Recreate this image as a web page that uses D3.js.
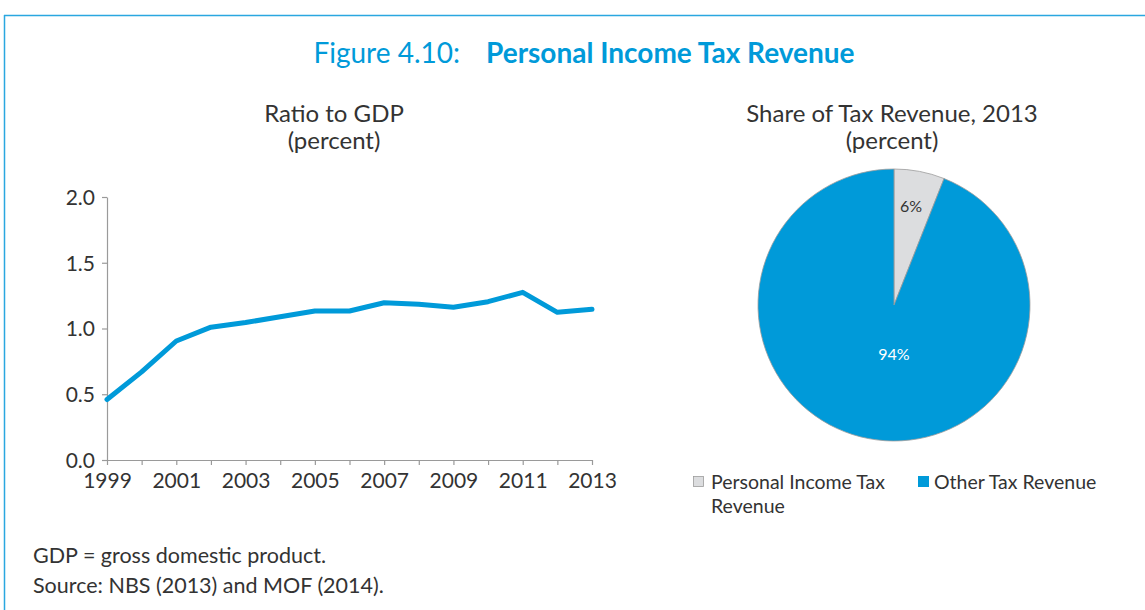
<!DOCTYPE html>
<html>
<head>
<meta charset="utf-8">
<script src="https://cdn.jsdelivr.net/npm/d3@7"></script>
<style>
  body { margin: 0; background: #fff; }
  svg text { font-family: Lato, "Open Sans", sans-serif; }
</style>
</head>
<body>
<svg id="chart" width="1145" height="610"></svg>
<script>
"use strict";

const years = [1999, 2000, 2001, 2002, 2003, 2004, 2005, 2006, 2007, 2008, 2009, 2010, 2011, 2012, 2013];
const ratioToGdp = [0.46, 0.67, 0.905, 1.01, 1.045, 1.09, 1.133, 1.133, 1.196, 1.184, 1.161, 1.204, 1.275, 1.123, 1.146];
const yTicks = [0, 0.5, 1.0, 1.5, 2.0];
const xTickLabels = [1999, 2001, 2003, 2005, 2007, 2009, 2011, 2013];

const shareNames = ["Personal Income Tax Revenue", "Other Tax Revenue"];
const shareValues = [6, 94];
const shareColors = ["#dcdddf", "#009ad9"];

const blue = "#009ad9";
const textColor = "#333333";

const svg = d3.select("#chart");

// frame
svg.append("line").attr("x1", 4).attr("x2", 1145).attr("y1", 15.5).attr("y2", 15.5)
    .attr("stroke", "#2aa7e0").attr("stroke-width", 1.5);
svg.append("line").attr("x1", 4.5).attr("x2", 4.5).attr("y1", 15).attr("y2", 610)
    .attr("stroke", "#2aa7e0").attr("stroke-width", 1.5);

// title
const title = svg.append("text").attr("x", 584).attr("y", 63)
    .attr("text-anchor", "middle").attr("fill", blue).style("font-size", "28px");
title.append("tspan").text("Figure 4.10:");
title.append("tspan").attr("dx", 26).style("font-weight", "bold").text("Personal Income Tax Revenue");

// ---- line chart ----
var xScale = d3.scaleLinear().domain([1999, 2013]).range([107, 592]);
var yScale = d3.scaleLinear().domain([0, 2]).range([460, 197]);

svg.append("text").attr("x", 334).attr("y", 122).attr("text-anchor", "middle")
    .attr("fill", textColor).style("font-size", "24px").text("Ratio to GDP");
svg.append("text").attr("x", 334).attr("y", 149).attr("text-anchor", "middle")
    .attr("fill", textColor).style("font-size", "24px").text("(percent)");

const yAxis = svg.append("g").attr("transform", "translate(107,0)")
    .call(d3.axisLeft(yScale).tickValues(yTicks).tickFormat(d3.format(".1f")).tickSize(5).tickSizeOuter(0));
const xAxis = svg.append("g").attr("transform", "translate(0,460)")
    .call(d3.axisBottom(xScale).tickValues(years).tickFormat(d => xTickLabels.includes(d) ? d : "").tickSize(5).tickSizeOuter(0));

[yAxis, xAxis].forEach(function(ax) {
    ax.select(".domain").attr("stroke", "#9a9a9a").attr("stroke-width", 1.2);
    ax.selectAll(".tick line").attr("stroke", "#9a9a9a").attr("stroke-width", 1.2);
    ax.selectAll(".tick text").attr("fill", textColor).style("font-size", "21px")
        .style("font-family", "Lato, 'Open Sans', sans-serif");
});
yAxis.selectAll(".tick text").attr("x", -12).attr("dy", "0.35em");
xAxis.selectAll(".tick text").attr("y", 11).attr("dy", "0.8em");

const line = d3.line()
    .x((d, i) => xScale(years[i]))
    .y(d => yScale(d));

svg.append("path").datum(ratioToGdp)
    .attr("d", line)
    .attr("fill", "none")
    .attr("stroke", blue)
    .attr("stroke-width", 5)
    .attr("stroke-linejoin", "round")
    .attr("stroke-linecap", "round");

// ---- pie chart ----
svg.append("text").attr("x", 892).attr("y", 122).attr("text-anchor", "middle")
    .attr("fill", textColor).style("font-size", "24px").text("Share of Tax Revenue, 2013");
svg.append("text").attr("x", 892).attr("y", 149).attr("text-anchor", "middle")
    .attr("fill", textColor).style("font-size", "24px").text("(percent)");

const pieData = d3.pie().sort(null)(shareValues);
const radius = 136;
const arc = d3.arc().innerRadius(0).outerRadius(radius);
const pieG = svg.append("g").attr("transform", "translate(894,305)");

pieG.selectAll("path").data(pieData).join("path")
    .attr("d", arc)
    .attr("fill", (d, i) => shareColors[i])
    .attr("stroke", "#9c9c9c")
    .attr("stroke-width", 0.8);

const labelPos = [[17, -93], [0, 55]];
pieG.selectAll("text.lbl").data(pieData).join("text")
    .attr("class", "lbl")
    .attr("x", (d, i) => labelPos[i][0])
    .attr("y", (d, i) => labelPos[i][1])
    .attr("text-anchor", "middle")
    .attr("fill", (d, i) => i === 0 ? textColor : "#ffffff")
    .style("font-size", "16px")
    .text(d => d.data + "%");

// legend
const legend = svg.append("g");
legend.append("rect").attr("x", 693.5).attr("y", 476.5).attr("width", 10).attr("height", 10)
    .attr("fill", shareColors[0]).attr("stroke", "#9c9c9c").attr("stroke-width", 0.8);
legend.append("text").attr("x", 711).attr("y", 489).attr("fill", textColor).style("font-size", "19.5px")
    .text("Personal Income Tax");
legend.append("text").attr("x", 711).attr("y", 513).attr("fill", textColor).style("font-size", "19.5px")
    .text("Revenue");
legend.append("rect").attr("x", 918).attr("y", 476).attr("width", 11).attr("height", 11)
    .attr("fill", shareColors[1]);
legend.append("text").attr("x", 934).attr("y", 489).attr("fill", textColor).style("font-size", "19.5px")
    .text("Other Tax Revenue");

// notes
svg.append("text").attr("x", 33).attr("y", 563).attr("fill", textColor).style("font-size", "21.5px")
    .text("GDP = gross domestic product.");
svg.append("text").attr("x", 33).attr("y", 593).attr("fill", textColor).style("font-size", "21.5px")
    .text("Source: NBS (2013) and MOF (2014).");
</script>
</body>
</html>
